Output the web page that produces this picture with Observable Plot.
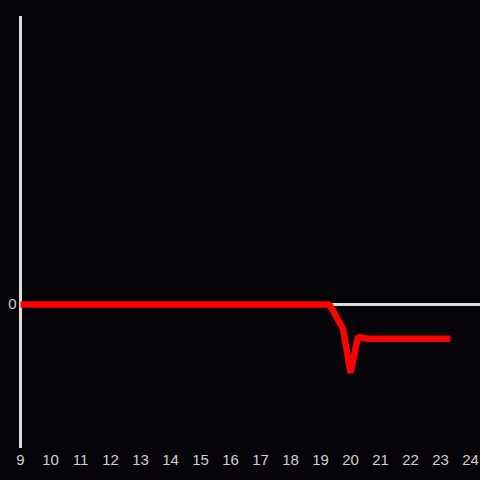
<!DOCTYPE html>
<html>
<head>
<meta charset="utf-8">
<script src="https://cdn.jsdelivr.net/npm/d3@7"></script>
<script src="https://cdn.jsdelivr.net/npm/@observablehq/plot@0.6"></script>
<style>
  html, body { margin: 0; padding: 0; background: #050307; }
</style>
</head>
<body>
<div id="chart"></div>
<script>
const hours = [9, 19.3, 19.75, 20, 20.25, 20.55, 23.33];
const values = [0, 0, -0.67, -1.9, -0.9, -0.95, -0.95];
const xTicks = [9, 10, 11, 12, 13, 14, 15, 16, 17, 18, 19, 20, 21, 22, 23, 24];
const yTicks = [0];

const data = hours.map((h, i) => ({hour: h, value: values[i]}));

const chart = Plot.plot({
  width: 480,
  height: 480,
  marginLeft: 20,
  marginRight: 0,
  marginTop: 16,
  marginBottom: 32,
  style: {background: "#050307", color: "#d0d0d0", fontFamily: "'Liberation Sans', Arial, sans-serif"},
  x: {domain: [9, 24 + 1/3]},
  y: {domain: [-4, 8]},
  marks: [
    Plot.axisX({ticks: xTicks, tickSize: 0, tickPadding: 6, label: null, fontSize: 15, fill: "#d0d0d0"}),
    Plot.axisY({ticks: yTicks, tickSize: 0, tickPadding: 4, label: null, fontSize: 15, fill: "#d0d0d0"}),
    Plot.ruleY([0], {stroke: "#dddddd", strokeWidth: 3}),
    Plot.ruleX([9], {stroke: "#dddddd", strokeWidth: 3}),
    Plot.line(data, {x: "hour", y: "value", stroke: "#ff0000", strokeWidth: 6.5, strokeLinecap: "butt", strokeLinejoin: "miter"})
  ]
});
document.getElementById("chart").appendChild(chart);
</script>
</body>
</html>
